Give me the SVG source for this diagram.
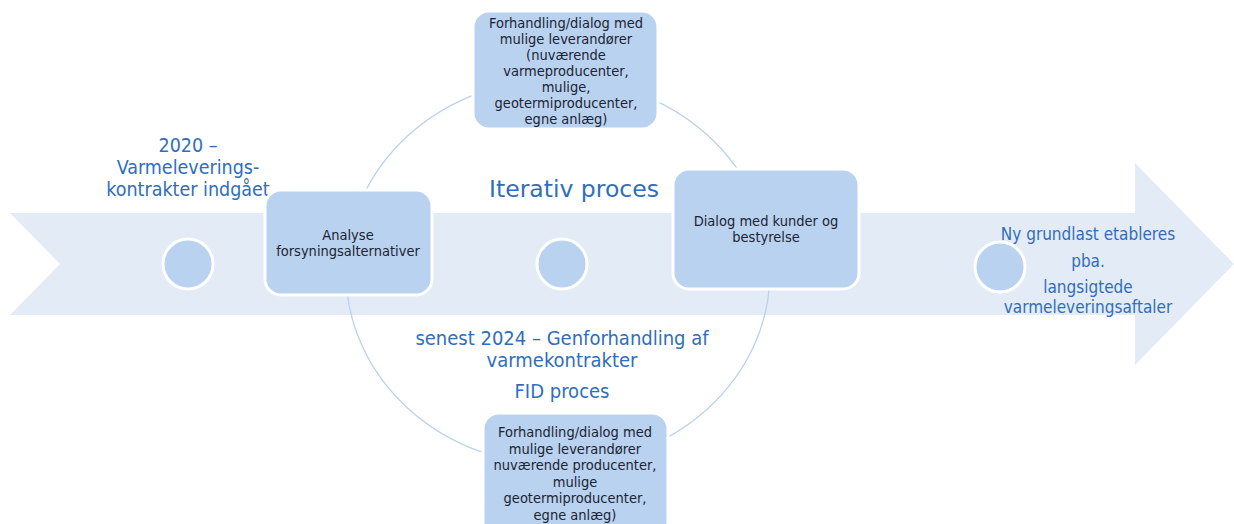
<svg xmlns="http://www.w3.org/2000/svg" width="1234" height="524" viewBox="0 0 1234 524">
<style>
.band{fill:#e3ebf7}
.dot{fill:#b9d2ef;stroke:#fff;stroke-width:3}
.box{fill:#b9d2ef;stroke:#fff;stroke-width:3}
.ring{fill:none;stroke:#b9d2ef;stroke-width:1.3}
.t{font-family:"DejaVu Sans Condensed","DejaVu Sans",sans-serif;text-anchor:middle}
.bt{font-size:14.5px;fill:#1c2433}
.blue{fill:#2f6ebd}
</style>
<rect width="1234" height="524" fill="#fff"/>
<g id="arrow">
<polygon class="band" points="10,213 1135,213 1135,163 1234,264 1135,365 1135,315 10,315 60,264"/>
</g>
<g id="connectors">
<ellipse class="ring" cx="558" cy="272" rx="212" ry="193"/>
</g>
<g id="label-2020">
<text class="t blue" font-size="19.5" x="188" y="152">2020 –</text>
<text class="t blue" font-size="19.5" x="188" y="174">Varmeleverings-</text>
<text class="t blue" font-size="19.5" x="188" y="196">kontrakter indgået</text>
</g>
<g id="dot1"><circle class="dot" cx="188" cy="264" r="25"/></g>
<g id="dot2"><circle class="dot" cx="562" cy="264" r="25"/></g>
<g id="dot3"><circle class="dot" cx="1000" cy="267" r="25"/></g>
<g id="label-iterativ">
<text class="t blue" font-size="23.5" x="574" y="197" style="font-family:'DejaVu Sans',sans-serif">Iterativ proces</text>
</g>
<g id="label-2024">
<text class="t blue" font-size="20" x="562" y="345">senest 2024 – Genforhandling af</text>
<text class="t blue" font-size="20" x="562" y="367">varmekontrakter</text>
<text class="t blue" font-size="20" x="562" y="398">FID proces</text>
</g>
<g id="label-ny">
<text class="t blue" font-size="17" x="1088" y="240">Ny grundlast etableres</text>
<text class="t blue" font-size="17" x="1088" y="267">pba.</text>
<text class="t blue" font-size="17" x="1088" y="293">langsigtede</text>
<text class="t blue" font-size="17" x="1088" y="313">varmeleveringsaftaler</text>
</g>
<g id="box-top">
<rect class="box" x="473" y="11" width="185" height="118" rx="16"/>
<text class="t bt" x="566" y="28">Forhandling/dialog med</text>
<text class="t bt" x="566" y="44">mulige leverandører</text>
<text class="t bt" x="566" y="60">(nuværende</text>
<text class="t bt" x="566" y="76">varmeproducenter,</text>
<text class="t bt" x="566" y="92">mulige,</text>
<text class="t bt" x="566" y="108">geotermiproducenter,</text>
<text class="t bt" x="566" y="124">egne anlæg)</text>
</g>
<g id="box-analyse">
<rect class="box" x="265" y="190" width="167" height="105" rx="16"/>
<text class="t bt" x="348" y="240">Analyse</text>
<text class="t bt" x="348" y="256">forsyningsalternativer</text>
</g>
<g id="box-dialog">
<rect class="box" x="673" y="169" width="186" height="120" rx="16"/>
<text class="t bt" x="766" y="226">Dialog med kunder og</text>
<text class="t bt" x="766" y="242">bestyrelse</text>
</g>
<g id="box-bottom">
<rect class="box" x="483" y="413" width="185" height="125" rx="16"/>
<text class="t bt" x="575" y="437">Forhandling/dialog med</text>
<text class="t bt" x="575" y="453.6">mulige leverandører</text>
<text class="t bt" x="575" y="470.2">nuværende producenter,</text>
<text class="t bt" x="575" y="486.8">mulige</text>
<text class="t bt" x="575" y="503.4">geotermiproducenter,</text>
<text class="t bt" x="575" y="520">egne anlæg)</text>
</g>
</svg>
